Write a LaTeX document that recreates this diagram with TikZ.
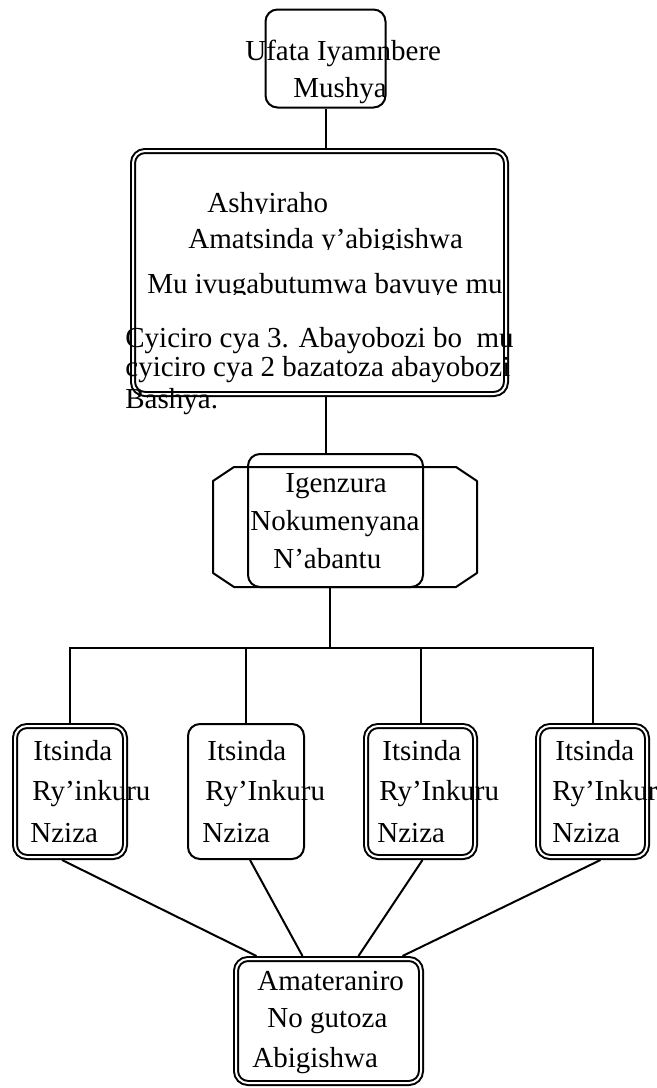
\documentclass[tikz,border=0pt]{standalone}
\usepackage{fontspec}
\setmainfont{Liberation Serif}
\usepackage{tikz}

\begin{document}
\begin{tikzpicture}[x=0.5pt, y=-0.5pt,
		box/.style={draw, line width=1pt, rounded corners=6pt, inner sep=0pt},
		dbox/.style={draw, line width=1pt, double, double distance=1pt, outer sep=1.5pt,
			rounded corners=6pt, inner sep=0pt},
		cbox/.style={inner sep=0pt, outer sep=0pt},
		txt/.style={anchor=base west, inner sep=0pt, font=\fontsize{14.5}{17}\selectfont},
		link/.style={line width=1pt}]
			\useasboundingbox (0,0) rectangle (657,1088);
			
			\node[box, minimum width=60pt, minimum height=49pt] (tbox) at (325.5,58.5) {};
			\node[dbox, minimum width=186.5pt, minimum height=121.5pt] (prog) at (319.5,272.5) {};
			\node[cbox, minimum width=132pt, minimum height=60pt] (igenw) at (345,527) {};
			\draw[link, line join=round] ([xshift=10.5pt]igenw.north west) -- ([xshift=-10.5pt]igenw.north east)
				-- ([yshift=-7pt]igenw.north east) -- ([yshift=7pt]igenw.south east)
				-- ([xshift=-10.5pt]igenw.south east) -- ([xshift=10.5pt]igenw.south west)
				-- ([yshift=7pt]igenw.south west) -- ([yshift=-7pt]igenw.north west) -- cycle;
			\node[box, minimum width=87.5pt, minimum height=66.5pt] (igen) at (335.5,520.5) {};
			
			\node[dbox, minimum width=55pt, minimum height=65.5pt] (g1) at (70,791.5) {};
			\node[box, minimum width=58pt, minimum height=67.5pt] (g2) at (246,791.5) {};
			\node[dbox, minimum width=54.5pt, minimum height=65.5pt] (g3) at (420.5,791.5) {};
			\node[dbox, minimum width=54.5pt, minimum height=65.5pt] (g4) at (592.5,791.5) {};
			
			\node[dbox, minimum width=92.5pt, minimum height=62pt] (amat) at (328.5,1021) {};
			
			\draw[link] (tbox.south) -- (tbox.south |- prog.north);
			\draw[link] (tbox.south |- prog.south) -- (tbox.south |- igen.north);
			\coordinate (bus) at (330,648);
			\draw[link] (igen.south -| bus) -- (bus);
			\draw[link] (g1.north) |- (bus) -| (g4.north);
			\foreach \g in {g2,g3} {
				\draw[link] (\g.north) -- (\g.north |- bus);
			}
			\draw[link] ([xshift=-4pt]g1.south) -- ([xshift=-36pt]amat.north);
			\draw[link] ([xshift=2pt]g2.south) -- ([xshift=-13pt]amat.north);
			\draw[link] ([xshift=1pt]g3.south) -- ([xshift=15pt]amat.north);
			\draw[link] ([xshift=4pt]g4.south) -- ([xshift=37pt]amat.north);
			
			\node[txt] (tb1) at (245,60) {Ufata Iyamnbere};
			\node[txt] (tb2) at (293,97) {Mushya};
			
			\begin{scope}
				\clip (130,150) rectangle (509,213);
				\node[txt] (p1) at (207,212) {Ashyiraho};
			\end{scope}
			\begin{scope}
				\clip (130,215) rectangle (509,249);
				\node[txt] (p2) at (188,248) {Amatsinda y’abigishwa};
			\end{scope}
			\begin{scope}
				\clip (130,251) rectangle (509,294);
				\node[txt] (p3) at (147,293) {Mu ivugabutumwa bavuye mu};
			\end{scope}
			\node[txt] (p4) at (125,347) {Cyiciro cya 3. Abayobozi bo\ \ mu};
			\node[txt] (p5) at (125,376) {cyiciro cya 2 bazatoza abayobozi};
			\node[txt] (p6) at (125,408) {Bashya.};
			
			\node[txt] (ig1) at (285,492) {Igenzura};
			\node[txt] (ig2) at (250,530) {Nokumenyana};
			\node[txt] (ig3) at (273,568) {N’abantu};
			
			\node[txt] at (33,760) {Itsinda};
			\node[txt] at (32,800) {Ry’inkuru};
			\node[txt] at (30,842) {Nziza};
			
			\node[txt] at (207,760) {Itsinda};
			\node[txt] at (205,800) {Ry’Inkuru};
			\node[txt] at (202,842) {Nziza};
			
			\node[txt] at (382,760) {Itsinda};
			\node[txt] at (379,800) {Ry’Inkuru};
			\node[txt] at (377,842) {Nziza};
			
			\node[txt] at (555,760) {Itsinda};
			\node[txt] at (552,800) {Ry’Inkuru};
			\node[txt] at (552,842) {Nziza};
			
			\node[txt] (am1) at (257,990) {Amateraniro};
			\node[txt] (am2) at (267,1027) {No gutoza};
			\node[txt] (am3) at (252,1067) {Abigishwa};
			
		\end{tikzpicture}
\end{document}
